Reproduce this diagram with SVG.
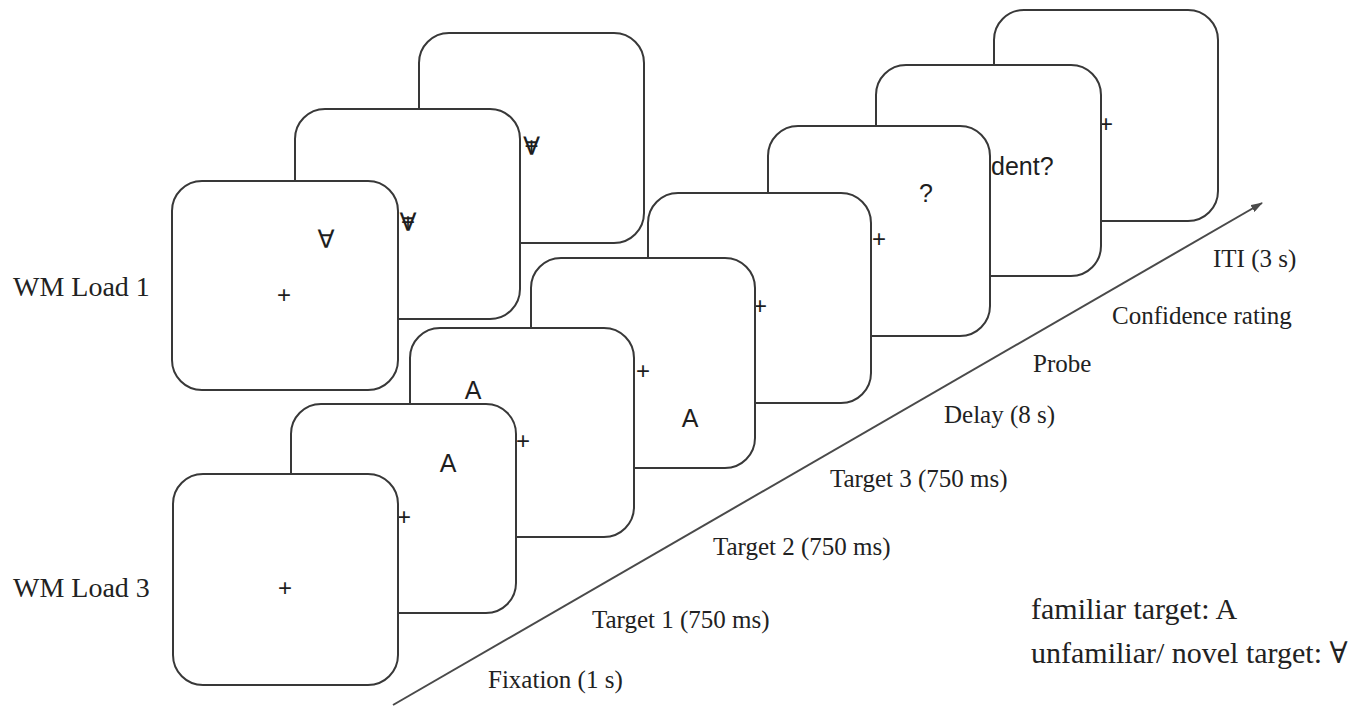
<svg xmlns="http://www.w3.org/2000/svg" width="1371" height="708" viewBox="0 0 1371 708">
  <style>
    .card { fill: #ffffff; stroke: #383838; stroke-width: 2; }
    .sym { font-family: "Liberation Sans", "DejaVu Sans", Arial, sans-serif; font-size: 25px; fill: #1e1e1e; text-anchor: middle; }
    .fix { font-family: "Liberation Sans", Arial, sans-serif; font-size: 24px; fill: #1e1e1e; text-anchor: middle; }
    .lbl { font-family: "Liberation Serif", "Times New Roman", serif; font-size: 25px; fill: #222222; }
    .big { font-family: "Liberation Serif", "Times New Roman", serif; font-size: 28px; fill: #222222; }
    .key { font-family: "Liberation Serif", "DejaVu Serif", "Times New Roman", serif; font-size: 30px; fill: #222222; }
    .axis { stroke: #4a4a4a; stroke-width: 2; fill: none; }
  </style>
  <defs>
    <marker id="head" viewBox="0 0 12 8" refX="11" refY="4" markerWidth="12" markerHeight="8" markerUnits="userSpaceOnUse" orient="auto">
      <path d="M0,0 L12,4 L0,8 Z" fill="#4a4a4a"/>
    </marker>
  </defs>

  <rect width="1371" height="708" fill="#ffffff"/>

  <!-- row labels -->
  <text class="big" x="13" y="296">WM Load 1</text>
  <text class="big" x="13" y="597">WM Load 3</text>

  <!-- WM Load 1 sequence, back to front -->
  <g id="load1-card3">
    <rect class="card" x="419" y="33" width="225" height="210" rx="30"/>
    <text class="sym" x="531.5" y="155">∀</text>
    <text class="fix" x="531.5" y="154">+</text>
  </g>
  <g id="load1-card2">
    <rect class="card" x="295" y="109" width="225" height="210" rx="30"/>
    <text class="sym" x="408" y="231">∀</text>
    <text class="fix" x="408" y="230">+</text>
  </g>
  <g id="load1-card1">
    <rect class="card" x="172" y="181" width="226" height="209" rx="30"/>
    <text class="sym" x="326" y="248">∀</text>
    <text class="fix" x="284" y="303">+</text>
  </g>

  <!-- WM Load 3 sequence, back to front -->
  <g id="load3-iti">
    <rect class="card" x="994" y="10" width="224" height="211" rx="30"/>
    <text class="fix" x="1106" y="132">+</text>
  </g>
  <g id="load3-confidence">
    <rect class="card" x="876" y="65" width="225" height="211" rx="30"/>
    <text class="sym" x="991" y="175" style="text-anchor:start">dent?</text>
  </g>
  <g id="load3-probe">
    <rect class="card" x="768" y="126" width="222" height="210" rx="30"/>
    <text class="sym" x="926" y="202">?</text>
    <text class="fix" x="879" y="247">+</text>
  </g>
  <g id="load3-delay">
    <rect class="card" x="648" y="193" width="223" height="210" rx="30"/>
    <text class="fix" x="760" y="314">+</text>
  </g>
  <g id="load3-target3">
    <rect class="card" x="531" y="258" width="224" height="210" rx="30"/>
    <text class="fix" x="643" y="379">+</text>
    <text class="sym" x="690" y="427">A</text>
  </g>
  <g id="load3-target2">
    <rect class="card" x="410" y="328" width="224" height="209" rx="30"/>
    <text class="fix" x="523" y="449">+</text>
    <text class="sym" x="473" y="399">A</text>
  </g>
  <g id="load3-target1">
    <rect class="card" x="291" y="404" width="225" height="209" rx="30"/>
    <text class="fix" x="404" y="525">+</text>
    <text class="sym" x="448" y="472">A</text>
  </g>
  <g id="load3-fixation">
    <rect class="card" x="173" y="474" width="225" height="211" rx="30"/>
    <text class="fix" x="285" y="596">+</text>
  </g>

  <!-- time axis -->
  <g id="connectors">
    <line class="axis" x1="393" y1="705" x2="1262" y2="203" marker-end="url(#head)"/>
  </g>

  <!-- phase labels along the axis -->
  <g id="phase-labels">
    <text class="lbl" x="1213" y="267">ITI (3 s)</text>
    <text class="lbl" x="1112" y="324">Confidence rating</text>
    <text class="lbl" x="1033" y="372">Probe</text>
    <text class="lbl" x="944" y="423">Delay (8 s)</text>
    <text class="lbl" x="830" y="487">Target 3 (750 ms)</text>
    <text class="lbl" x="713" y="555">Target 2 (750 ms)</text>
    <text class="lbl" x="592" y="628">Target 1 (750 ms)</text>
    <text class="lbl" x="488" y="688">Fixation (1 s)</text>
  </g>

  <!-- key -->
  <g id="key">
    <text class="key" x="1031" y="619">familiar target: A</text>
    <text class="key" x="1031" y="663">unfamiliar/ novel target: ∀</text>
  </g>
</svg>
